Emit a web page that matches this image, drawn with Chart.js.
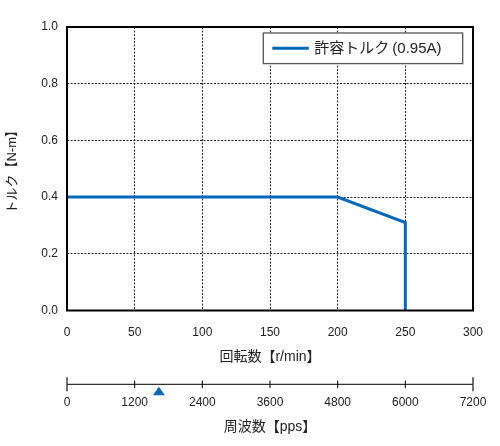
<!DOCTYPE html>
<html><head><meta charset="utf-8">
<script src="https://cdn.jsdelivr.net/npm/chart.js@4.4.0/dist/chart.umd.min.js"></script>
<style>html,body{margin:0;padding:0;background:#fff;} canvas{display:block;}</style>
</head><body>
<canvas id="c" width="500" height="446"></canvas>
<script>
// ---- data ----
const speedRpm = [0, 200, 250, 250];
const torqueNm = [0.4, 0.4, 0.31, 0];
const seriesLabel = '許容トルク\u2009(0.95A)';
const xTitle = '回転数【r/min】';
const yTitle = 'トルク【N-m】';
const pulseTitle = '周波数【pps】';
const speedTicks = [0, 50, 100, 150, 200, 250, 300];
const torqueTicks = [0, 0.2, 0.4, 0.6, 0.8, 1.0];
const pulseTicks = [0, 1200, 2400, 3600, 4800, 6000, 7200];
const pulseMarker = [1630];

const FONT = '"Liberation Sans", "Noto Sans CJK JP", sans-serif';
const TXT = '#222';
const BLUE = '#0068b7';

const extras = {
  id: 'extras',
  afterDatasetsDraw(chart) {
    const {ctx, chartArea: a} = chart;
    ctx.save();
    // frame
    ctx.strokeStyle = '#000';
    ctx.lineWidth = 2;
    ctx.strokeRect(a.left, a.top, a.right - a.left, a.bottom - a.top);
    // legend
    const ds = chart.data.datasets[0];
    const L = a.left + 196.3, R = a.right - 10.3, T = a.top + 6, H = 30.6;
    ctx.fillStyle = '#fff';
    ctx.fillRect(L, T, R - L, H);
    ctx.strokeStyle = '#555';
    ctx.lineWidth = 1.3;
    ctx.strokeRect(L, T, R - L, H);
    ctx.strokeStyle = ds.borderColor;
    ctx.lineWidth = 3;
    ctx.beginPath();
    ctx.moveTo(L + 9, T + H / 2);
    ctx.lineTo(L + 45.5, T + H / 2);
    ctx.stroke();
    ctx.fillStyle = TXT;
    ctx.font = '15px ' + FONT;
    ctx.textAlign = 'left';
    ctx.textBaseline = 'middle';
    ctx.fillText(ds.label, L + 51, T + H / 2 + 0.5);
    ctx.restore();
  },
  afterDraw(chart) {
    const {ctx} = chart;
    const s = chart.scales.x2;
    const y = s.top;
    ctx.save();
    ctx.strokeStyle = '#000';
    ctx.lineWidth = 1;
    const x0 = s.getPixelForValue(s.min), x1 = s.getPixelForValue(s.max);
    ctx.beginPath();
    ctx.moveTo(x0, y); ctx.lineTo(x1, y);
    ctx.stroke();
    pulseTicks.forEach((v, i) => {
      const x = s.getPixelForValue(v);
      const end = (i === 0 || i === pulseTicks.length - 1);
      const h = end ? 7 : 3.8;
      ctx.lineWidth = end ? 1.4 : 1;
      ctx.strokeStyle = end ? '#333' : '#000';
      ctx.beginPath();
      ctx.moveTo(x, y - h); ctx.lineTo(x, y + h);
      ctx.stroke();
    });
    ctx.fillStyle = BLUE;
    pulseMarker.forEach(v => {
      const x = s.getPixelForValue(v);
      ctx.beginPath();
      ctx.moveTo(x, y + 2.4);
      ctx.lineTo(x + 6, y + 11);
      ctx.lineTo(x - 6, y + 11);
      ctx.closePath();
      ctx.fill();
    });
    ctx.restore();
  }
};

new Chart(document.getElementById('c'), {
  type: 'scatter',
  data: {
    datasets: [{
      label: seriesLabel,
      data: speedRpm.map((x, i) => ({x: x, y: torqueNm[i]})),
      showLine: true,
      borderColor: BLUE,
      backgroundColor: BLUE,
      borderWidth: 3,
      pointRadius: 0,
      tension: 0,
      xAxisID: 'x',
      yAxisID: 'y'
    }]
  },
  options: {
    responsive: false,
    animation: false,
    devicePixelRatio: 1,
    layout: {padding: {top: 27, right: 27, bottom: 0, left: 0}},
    plugins: {legend: {display: false}, tooltip: {enabled: false}},
    scales: {
      x: {
        type: 'linear', position: 'bottom', weight: 0,
        min: 0, max: 300,
        afterBuildTicks: s => { s.ticks = speedTicks.map(v => ({value: v})); },
        afterFit: s => { s.height = 73.8; },
        grid: {color: '#222', lineWidth: 1, drawTicks: false},
        border: {display: false, dash: [2, 1.5]},
        ticks: {color: TXT, font: {family: FONT, size: 12}, padding: 15.3, maxRotation: 0, callback: v => String(v)},
        title: {display: true, text: xTitle, color: TXT, font: {family: FONT, size: 14}, padding: {top: 0, bottom: 18.9}}
      },
      x2: {
        type: 'linear', position: 'bottom', weight: 1,
        min: 0, max: 7200,
        afterBuildTicks: s => { s.ticks = pulseTicks.map(v => ({value: v})); },
        afterFit: s => { s.height = 61.7; },
        grid: {display: false, drawTicks: false},
        border: {display: false},
        ticks: {color: TXT, font: {family: FONT, size: 12}, padding: 11.5, maxRotation: 0, callback: v => String(v)},
        title: {display: true, text: pulseTitle, color: TXT, font: {family: FONT, size: 14}, padding: {top: 0, bottom: 10.6}}
      },
      y: {
        type: 'linear', position: 'left',
        min: 0, max: 1,
        afterBuildTicks: s => { s.ticks = torqueTicks.map(v => ({value: v})); },
        afterFit: s => { s.width = 67; },
        grid: {color: '#222', lineWidth: 1, drawTicks: false},
        border: {display: false, dash: [2, 1.5]},
        ticks: {color: TXT, font: {family: FONT, size: 12}, padding: 9, callback: v => Number(v).toFixed(1)},
        title: {display: true, text: yTitle, color: TXT, font: {family: FONT, size: 13}, padding: {top: 4.7, bottom: 0}}
      }
    }
  },
  plugins: [extras]
});
</script>
</body></html>
